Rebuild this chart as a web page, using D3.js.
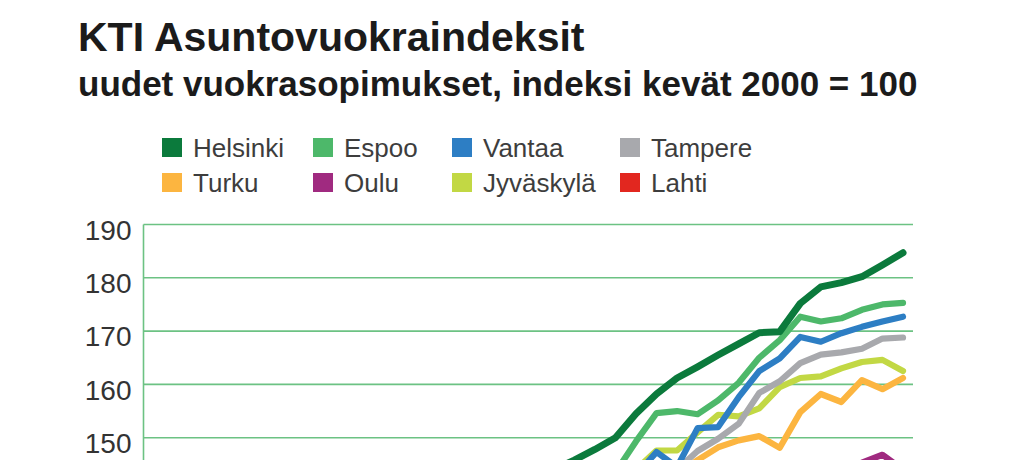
<!DOCTYPE html>
<html>
<head>
<meta charset="utf-8">
<script src="https://cdn.jsdelivr.net/npm/d3@7"></script>
<style>
    body { margin: 0; background: #fff; overflow: hidden; }
</style>
</head>
<body>
<div id="chart"></div>
<script>
//Data: half-year periods, index spring 2000 = 100
//values below the visible part of the picture could not be read -> null
const periods = [
    "2000K", "2000S", "2001K", "2001S", "2002K", "2002S", "2003K", "2003S",
    "2004K", "2004S", "2005K", "2005S", "2006K", "2006S", "2007K", "2007S",
    "2008K", "2008S", "2009K", "2009S", "2010K", "2010S", "2011K", "2011S",
    "2012K", "2012S", "2013K", "2013S", "2014K", "2014S", "2015K", "2015S",
    "2016K", "2016S", "2017K", "2017S", "2018K", "2018S"
];
const N = null;
const helsinki = [N, N, N, N, N, N, N, N, N, N, N, N, N, N, N, N, N, N, N, N,
    144.0, 145.8, 147.8, 150.0, 154.5, 158.2, 161.2, 163.3, 165.5, 167.6, 169.7, 169.9,
    175.2, 178.3, 179.1, 180.2, 182.4, 184.7];
const espoo = [N, N, N, N, N, N, N, N, N, N, N, N, N, N, N, N, N, N, N, N,
    N, N, N, 143.5, 149.3, 154.6, 155.0, 154.4, 157.0, 160.3, 165.0, 168.3,
    172.7, 171.8, 172.4, 174.0, 175.0, 175.3];
const vantaa = [N, N, N, N, N, N, N, N, N, N, N, N, N, N, N, N, N, N, N, N,
    N, N, N, N, 143.0, 147.3, 144.5, 151.8, 152.0, 157.6, 162.5, 164.9,
    168.9, 168.0, 169.6, 170.8, 171.8, 172.7];
const tampere = [N, N, N, N, N, N, N, N, N, N, N, N, N, N, N, N, N, N, N, N,
    N, N, N, N, N, N, 144.0, 147.5, 149.8, 152.6, 158.4, 160.6,
    164.0, 165.6, 166.0, 166.7, 168.6, 168.8];
const turku = [N, N, N, N, N, N, N, N, N, N, N, N, N, N, N, N, N, N, N, N,
    N, N, N, N, N, N, 143.0, 145.8, 148.2, 149.5, 150.3, 148.1,
    154.8, 158.2, 156.7, 160.8, 159.1, 161.2];
const oulu = [N, N, N, N, N, N, N, N, N, N, N, N, N, N, N, N, N, N, N, N,
    N, N, N, N, N, N, N, N, N, N, N, N,
    N, N, 142.0, 145.3, 146.8, 144.0];
const jyvaskyla = [N, N, N, N, N, N, N, N, N, N, N, N, N, N, N, N, N, N, N, N,
    N, N, N, N, 144.0, 147.6, 147.6, 151.0, 154.3, 154.0, 155.5, 159.5,
    161.2, 161.5, 163.0, 164.2, 164.6, 162.5];
const lahti = [N, N, N, N, N, N, N, N, N, N, N, N, N, N, N, N, N, N, N, N,
    N, N, N, N, N, N, N, N, N, N, N, N, N, N, N, N, N, N];

const names = ["Helsinki", "Espoo", "Vantaa", "Tampere", "Turku", "Oulu", "Jyväskylä", "Lahti"];
//only the ticks that are visible in the picture
const yTicks = [150, 160, 170, 180, 190];

function d1() {
    const width = 1024
    const height = 460
    const colors = ["#0b7a3c", "#4db86a", "#2d7ec4", "#a8a9ad", "#fcb540", "#a02a80", "#c2d844", "#e2271f"];
    const series = [helsinki, espoo, vantaa, tampere, turku, oulu, jyvaskyla, lahti];

    let svg = d3.select("#chart")
        .append("svg")
        .attr("width", width)
        .attr("height", height)
        .style("font-family", "'Liberation Sans', Arial, sans-serif");

    //title
    svg.append("text")
        .attr("x", 78)
        .attr("y", 51)
        .attr("font-size", 41)
        .attr("font-weight", "bold")
        .attr("fill", "#1b1b1b")
        .text("KTI Asuntovuokraindeksit");
    svg.append("text")
        .attr("x", 78)
        .attr("y", 96)
        .attr("font-size", 35)
        .attr("font-weight", "bold")
        .attr("fill", "#1b1b1b")
        .text("uudet vuokrasopimukset, indeksi kevät 2000 = 100");

    //legend, 4 columns x 2 rows
    const legendX = [162, 313, 452, 620];
    const legendY = [138, 173];
    let legend = svg.append("g").attr("class", "legend");
    names.forEach(function(name, i) {
        let g = legend.append("g")
            .attr("transform", `translate(${legendX[i % 4]}, ${legendY[Math.floor(i / 4)]})`);
        g.append("rect")
            .attr("width", 20)
            .attr("height", 19)
            .attr("fill", colors[i]);
        g.append("text")
            .attr("x", 31)
            .attr("y", 18.5)
            .attr("font-size", 26)
            .attr("fill", "#3d3d3d")
            .text(name);
    });

    //scales
    const plot = {l: 143.5, r: 913, top: 224.5, step: 53.3};
    let scaleX = d3.scalePoint().domain(periods).range([143, 903]);
    let scaleY = d3.scaleLinear()
        .domain([100, 190])
        .range([plot.top + 9 * plot.step, plot.top]);

    //grid lines
    let grid = svg.append("g").attr("class", "grid");
    grid.selectAll("line")
        .data(yTicks)
        .join("line")
        .attr("x1", plot.l)
        .attr("x2", plot.r)
        .attr("y1", d => scaleY(d))
        .attr("y2", d => scaleY(d))
        .attr("stroke", "#6cc283")
        .attr("stroke-width", 1.6);
    grid.append("line")
        .attr("x1", plot.l)
        .attr("x2", plot.l)
        .attr("y1", scaleY(190))
        .attr("y2", height)
        .attr("stroke", "#6cc283")
        .attr("stroke-width", 1.6);

    //y axis labels
    let axisY = d3.axisLeft(scaleY).tickValues(yTicks).tickSize(0).tickPadding(12);
    let gy = svg.append("g")
        .attr("transform", `translate(${plot.l}, 0)`)
        .call(axisY);
    gy.select(".domain").remove();
    gy.selectAll("text")
        .attr("font-size", 28)
        .attr("font-family", "'Liberation Sans', Arial, sans-serif")
        .attr("fill", "#333")
        .attr("dy", 14.8);

    //lines, Lahti drawn first so the others sit on top
    let line = d3.line()
        .defined(d => d != null)
        .x((d, i) => scaleX(periods[i]))
        .y(d => scaleY(d));
    const order = [7, 5, 4, 6, 3, 2, 1, 0];
    order.forEach(function(k) {
        svg.append("path")
            .datum(series[k])
            .attr("fill", "none")
            .attr("stroke", colors[k])
            .attr("stroke-width", k === 0 ? 7 : 6.2)
            .attr("stroke-linejoin", "round")
            .attr("stroke-linecap", "round")
            .attr("d", line);
    });
}
d1();
</script>
</body>
</html>
